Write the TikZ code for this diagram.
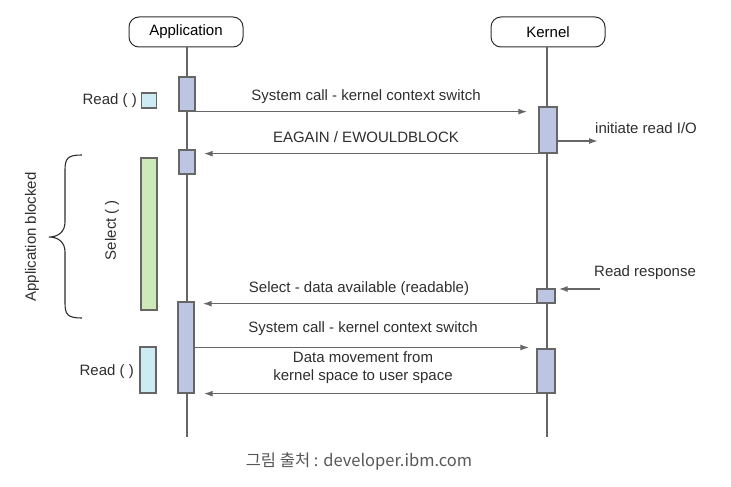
\documentclass[tikz,border=0pt]{standalone}
\usepackage{fontspec}
\setmainfont{Liberation Sans}
\newfontfamily\krfont{Noto Sans CJK KR}
\usetikzlibrary{arrows.meta,calc}
\definecolor{actblue}{HTML}{BCC6E2}
\definecolor{selgreen}{HTML}{CDE9B8}
\definecolor{readblue}{HTML}{CDEBF3}
\definecolor{linegray}{HTML}{666666}
\definecolor{txtgray}{HTML}{2E2E2E}
\tikzset{
  head/.style={draw=txtgray, line width=1pt, rounded corners=10pt, minimum width=114pt, minimum height=30pt, inner sep=0pt},
  life/.style={draw=linegray, line width=1.8pt},
  act/.style={draw=linegray, line width=1.3pt, fill=actblue, minimum width=16pt, inner sep=0pt},
  msg/.style={draw=linegray, line width=1.5pt, -{Latex[length=9pt,width=6pt]}},
  lbl/.style={text=txtgray, inner sep=0pt}
}
\begin{document}
\begin{tikzpicture}[x=1pt, y=-1pt, font=\fontsize{15}{18}\selectfont]
    \useasboundingbox (0,0) rectangle (731,487);
    % Lifelines
    \node [head] (app) at (186, 32) {Application};
    \node [head] (ker) at (548, 32) {Kernel};
    \coordinate (appEnd) at (187, 437);
    \coordinate (kerEnd) at (547, 437);
    \draw [life] (app.south -| appEnd) -- (appEnd);
    \draw [life] (ker.south -| kerEnd) -- (kerEnd);
    % Activation boxes
    \node [act, minimum height=34pt] (appA) at (187, 94) {};
    \node [act, minimum height=24pt] (appB) at (187, 162) {};
    \node [act, minimum height=91pt] (appC) at (186, 347.5) {};
    \node [act, minimum width=18pt, minimum height=46pt] (kerA) at (548, 130) {};
    \node [act, minimum width=18pt, minimum height=14pt] (kerB) at (546, 296) {};
    \node [act, minimum width=18pt, minimum height=44pt] (kerC) at (546, 371) {};
    % Messages
    \draw [msg, shorten >=11pt] (appA.south east) -- (appA.south east -| kerA.west);
    \node [lbl] (callA) at (366, 97) {System call - kernel context switch};
    \draw [msg, shorten >=8pt] (kerA.south west) -- (kerA.south west -| appB.east);
    \node [lbl] (again) at (366, 137) {EAGAIN / EWOULDBLOCK};
    \coordinate (ioEnd) at (598, 141);
    \draw [msg] (kerA.east |- ioEnd) -- (ioEnd);
    \node [lbl, anchor=west] (initio) at (595, 128) {initiate read I/O};
    \coordinate (respStart) at (600, 289);
    \draw [msg, shorten >=3pt] (respStart) -- (kerB.east |- respStart);
    \node [lbl, anchor=west] (resp) at (594, 273) {Read response};
    \draw [msg, shorten >=8pt] (kerB.south west) -- (kerB.south west -| appC.east);
    \node [lbl] (avail) at (359, 289) {Select - data available (readable)};
    \draw [msg, shorten >=7pt] (appC.east) -- (appC.east -| kerC.west);
    \node [lbl] (callB) at (363, 329) {System call - kernel context switch};
    \draw [msg, shorten >=9pt] (kerC.south west) -- (kerC.south west -| appC.east);
    \node [lbl, align=center] (move) at (363, 368) {Data movement from\\kernel space to user space};
    % Application side
    \node [draw=linegray, line width=1.2pt, fill=readblue, minimum width=15pt, minimum height=15pt, inner sep=0pt] (readA) at (149, 100.5) {};
    \node [lbl, anchor=east] (readAl) at (137, 101) {Read ( )};
    \node [draw=linegray, line width=1.2pt, fill=selgreen, minimum width=16pt, minimum height=152pt, inner sep=0pt] (selbar) at (149, 234) {};
    \node [lbl, rotate=90] (sell) at (112, 230) {Select ( )};
    \node [draw=linegray, line width=1.2pt, fill=readblue, minimum width=16pt, minimum height=46pt, inner sep=0pt] (readB) at (148, 370) {};
    \node [lbl, anchor=east] (readBl) at (134, 372) {Read ( )};
    % Brace
    \draw [txtgray, line width=1.1pt] (82,155) .. controls (68,155) and (65,158) .. (65,170) -- (65,222)
        .. controls (65,232) and (58,237) .. (49,237) .. controls (58,237) and (65,242) .. (65,252)
        -- (65,303) .. controls (65,315) and (68,318) .. (82,318);
    \node [lbl, rotate=90] (blocked) at (32, 237) {Application blocked};
    % Caption
    \node [text=txtgray!80, font=\krfont\fontsize{16.5}{19}\selectfont] (src) at (359, 462) {그림 출처 : developer.ibm.com};
\end{tikzpicture}
\end{document}
